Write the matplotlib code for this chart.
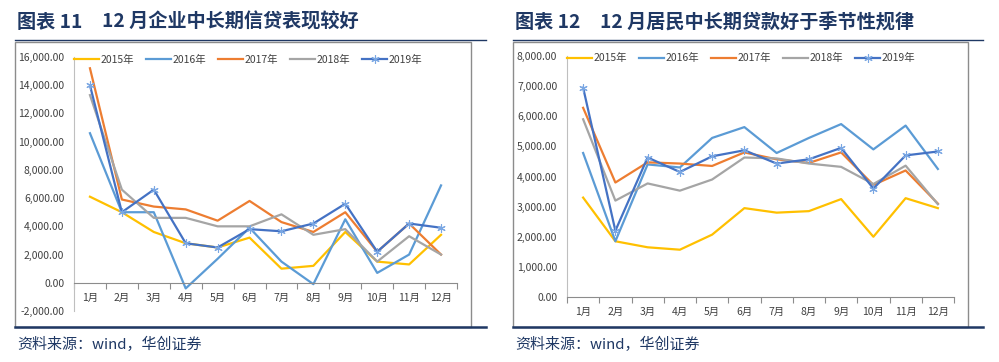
import matplotlib.pyplot as plt
from matplotlib.lines import Line2D
from matplotlib.patches import Rectangle
from matplotlib.ticker import FuncFormatter

plt.rcParams['font.family'] = ['Noto Sans CJK SC', 'DejaVu Sans']

months = ['1月', '2月', '3月', '4月', '5月', '6月', '7月', '8月', '9月', '10月', '11月', '12月']
years = ['2015年', '2016年', '2017年', '2018年', '2019年']

# 图表11 企业中长期贷款
corp_2015 = [6100, 5000, 3600, 2800, 2500, 3200, 1000, 1200, 3600, 1500, 1300, 3400]
corp_2016 = [10600, 5000, 5000, -400, 1700, 3900, 1500, -100, 4500, 700, 2000, 6900]
corp_2017 = [15200, 5900, 5400, 5200, 4400, 5800, 4300, 3600, 5000, 2200, 4200, 2000]
corp_2018 = [13300, 6600, 4600, 4600, 4000, 4000, 4850, 3400, 3800, 1500, 3300, 2000]
corp_2019 = [14000, 5000, 6600, 2800, 2500, 3800, 3650, 4200, 5600, 2200, 4200, 3900]

# 图表12 居民中长期贷款
hh_2015 = [3300, 1850, 1650, 1570, 2070, 2950, 2800, 2850, 3250, 2000, 3280, 2950]
hh_2016 = [4780, 1850, 4400, 4300, 5280, 5640, 4780, 5280, 5740, 4900, 5690, 4250]
hh_2017 = [6280, 3800, 4470, 4430, 4350, 4800, 4570, 4450, 4800, 3720, 4200, 3100]
hh_2018 = [5900, 3200, 3770, 3530, 3900, 4630, 4600, 4430, 4320, 3750, 4360, 3080]
hh_2019 = [6950, 2200, 4630, 4150, 4670, 4870, 4430, 4570, 4950, 3600, 4700, 4830]

colors = ['#FFC000', '#5B9BD5', '#ED7D31', '#A5A5A5', '#4472C4']
navy = '#1F3864'

fig = plt.figure(figsize=(9.99, 3.62), dpi=100)
W, H = 999, 362


def px_box(x0, y0, x1, y1):
    return [x0 / W, 1 - y1 / H, (x1 - x0) / W, (y1 - y0) / H]


def draw_panel(rect, series, ylim, ystep, fig_no, title, box, line_x1):
    # 外框和标题
    bx0, by0, bx1, by1 = box
    fig.add_artist(Rectangle((bx0 / W, 1 - by1 / H), (bx1 - bx0) / W, (by1 - by0) / H,
                             transform=fig.transFigure, fill=False, edgecolor='#8C8C8C', lw=1.0))
    fig.add_artist(Line2D([bx0 / W, line_x1 / W], [1 - 40 / H, 1 - 40 / H],
                          transform=fig.transFigure, color=navy, lw=1.0))
    fig.add_artist(Line2D([bx0 / W, line_x1 / W], [1 - 327 / H, 1 - 327 / H],
                          transform=fig.transFigure, color=navy, lw=1.8))
    fig.text((bx0 + 2) / W, 1 - 22 / H, fig_no, fontsize=13.8, fontweight='bold',
             color=navy, va='center', ha='left')
    fig.text((bx0 + 87) / W, 1 - 22 / H, title, fontsize=13.8, fontweight='bold',
             color=navy, va='center', ha='left')
    fig.text((bx0 + 2) / W, 1 - 344 / H, '资料来源：wind，华创证券', fontsize=10.8,
             style='italic', color=navy, va='center', ha='left')

    ax = fig.add_axes(rect)
    x = list(range(12))
    for i, (vals, name) in enumerate(zip(series, years)):
        if i == 4:
            ax.plot(x, vals, color=colors[i], lw=1.6, label=name, marker=(6, 2, 0),
                    markersize=6, markeredgecolor='#7AA7E3', markeredgewidth=0.8)
        else:
            ax.plot(x, vals, color=colors[i], lw=1.6, label=name)

    ax.set_xlim(-0.5, 11.5)
    ax.set_ylim(*ylim)
    ax.set_yticks(list(range(ylim[0], ylim[1] + 1, ystep)))
    ax.yaxis.set_major_formatter(FuncFormatter(lambda v, p: f'{v:,.2f}'))
    ax.tick_params(axis='y', length=0, labelsize=7.5, labelcolor='#404040', pad=7)

    ax.set_xticks([i - 0.5 for i in range(13)])
    ax.set_xticklabels([])
    ax.set_xticks(x, minor=True)
    ax.set_xticklabels(months, minor=True)
    ax.tick_params(axis='x', which='major', length=4, color='#8C8C8C', direction='out')
    ax.tick_params(axis='x', which='minor', length=0, labelsize=7.5, labelcolor='#404040', pad=7)

    ax.spines['top'].set_visible(False)
    ax.spines['right'].set_visible(False)
    ax.spines['left'].set_color('#BFBFBF')
    ax.spines['bottom'].set_color('#8C8C8C')
    ax.spines['bottom'].set_position(('data', 0))
    ax.patch.set_alpha(0)

    ax.legend(loc='center left', bbox_to_anchor=(0.0, 0.99), ncol=5, frameon=False,
              fontsize=7.5, handlelength=2.4, handletextpad=0.15, columnspacing=1.15,
              borderpad=0, borderaxespad=0, labelcolor='#404040')
    return ax


draw_panel(px_box(74, 57, 457, 311),
           [corp_2015, corp_2016, corp_2017, corp_2018, corp_2019],
           (-2000, 16000), 2000, '图表 11', '12 月企业中长期信贷表现较好',
           (15, 42, 471, 327), 486)

draw_panel(px_box(567, 56, 954, 297),
           [hh_2015, hh_2016, hh_2017, hh_2018, hh_2019],
           (0, 8000), 1000, '图表 12', '12 月居民中长期贷款好于季节性规律',
           (513, 42, 968, 327), 983)

fig.savefig('out.png', dpi=100)
